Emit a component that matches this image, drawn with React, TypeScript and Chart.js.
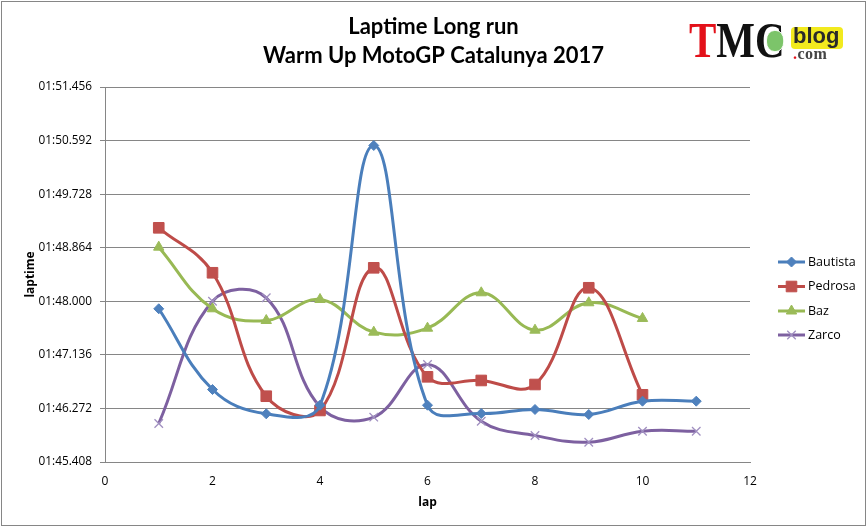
import { useEffect, useRef } from "react";
import { Chart, registerables } from "chart.js";
import { drawPoint } from "chart.js/helpers";

Chart.register(...registerables);

// lap numbers per rider
const lapsLong = [1, 2, 3, 4, 5, 6, 7, 8, 9, 10, 11];
const lapsShort = [1, 2, 3, 4, 5, 6, 7, 8, 9, 10];

// lap times in seconds (01:47.000 = 107.000)
const bautista = [107.879, 106.577, 106.185, 106.324, 110.513, 106.324, 106.19, 106.255, 106.174, 106.389, 106.389];
const pedrosa = [109.185, 108.46, 106.469, 106.239, 108.54, 106.782, 106.723, 106.658, 108.218, 106.492];
const baz = [108.873, 107.879, 107.69, 108.029, 107.502, 107.566, 108.137, 107.534, 107.976, 107.723];
const zarco = [106.029, 108.0, 108.056, 106.298, 106.131, 106.981, 106.066, 105.835, 105.727, 105.905, 105.905];

const riders = ["Bautista", "Pedrosa", "Baz", "Zarco"];
const yTicks = [105.408, 106.272, 107.136, 108.0, 108.864, 109.728, 110.592, 111.456];
const xTicks = [0, 2, 4, 6, 8, 10, 12];
const titleLines = ["Laptime Long run", "Warm Up MotoGP Catalunya 2017"];

const fmtTime = (v: number) => {
  const min = Math.floor(v / 60);
  const sec = v - min * 60;
  return String(min).padStart(2, "0") + ":" + sec.toFixed(3).padStart(6, "0");
};

const toPoints = (laps: number[], vals: number[]) => vals.map((y, i) => ({ x: laps[i], y }));

// title + excel style legend (line with marker in the middle)
const decorPlugin = {
  id: "decor",
  afterDraw(chart: any) {
    const ctx = chart.ctx;
    ctx.save();
    ctx.fillStyle = "#000";
    ctx.textAlign = "center";
    ctx.textBaseline = "middle";
    ctx.font = "bold 22px Lato";
    ctx.fillText(titleLines[0], 433.5, 27);
    ctx.fillText(titleLines[1], 433.5, 56);

    const rows = [262, 286.5, 311, 335];
    chart.data.datasets.forEach((ds: any, i: number) => {
      const y = rows[i];
      ctx.strokeStyle = ds.borderColor;
      ctx.lineWidth = 3;
      ctx.beginPath();
      ctx.moveTo(778, y);
      ctx.lineTo(805, y);
      ctx.stroke();
      ctx.fillStyle = ds.pointBackgroundColor;
      ctx.strokeStyle = ds.pointBorderColor;
      ctx.lineWidth = ds.pointBorderWidth;
      drawPoint(ctx, { pointStyle: ds.pointStyle, radius: ds.pointRadius, rotation: 0, borderWidth: ds.pointBorderWidth }, 791.5, y);
      ctx.fillStyle = "#000";
      ctx.textAlign = "left";
      ctx.font = "12.5px 'Open Sans'";
      ctx.fillText(riders[i], 808, y);
    });
    ctx.restore();
  },
};

const App = () => {
  const canvasRef = useRef<HTMLCanvasElement>(null);
  const chartRef = useRef<Chart | null>(null);

  useEffect(() => {
    if (!canvasRef.current) return;
    if (chartRef.current) chartRef.current.destroy();

    const series = [
      { data: toPoints(lapsLong, bautista), line: "#4A7EBB", mark: "#4F81BD", style: "rectRot", r: 5, bw: 1 },
      { data: toPoints(lapsShort, pedrosa), line: "#BE4B48", mark: "#C0504D", style: "rect", r: 7.5, bw: 1 },
      { data: toPoints(lapsShort, baz), line: "#98B954", mark: "#9BBB59", style: "triangle", r: 6, bw: 1 },
      { data: toPoints(lapsLong, zarco), line: "#7D60A0", mark: "#A08FC0", style: "crossRot", r: 6, bw: 1.3 },
    ];

    chartRef.current = new Chart(canvasRef.current, {
      type: "line",
      data: {
        datasets: series.map((s, i) => ({
          label: riders[i],
          data: s.data,
          borderColor: s.line,
          borderWidth: 3,
          tension: 0.4,
          fill: false,
          pointStyle: s.style as any,
          pointRadius: s.r,
          pointBackgroundColor: s.mark,
          pointBorderColor: s.mark,
          pointBorderWidth: s.bw,
          clip: false as any,
        })),
      },
      options: {
        responsive: false,
        animation: false,
        layout: { padding: { top: 87, right: 117, left: 0, bottom: 0 } },
        plugins: {
          legend: { display: false },
          tooltip: { enabled: false },
        },
        scales: {
          x: {
            type: "linear",
            min: 0,
            max: 12,
            afterFit: (s: any) => { s.height = 65; },
            afterBuildTicks: (s: any) => { s.ticks = xTicks.map((v) => ({ value: v })); },
            grid: { display: false },
            border: { display: true, color: "#868686", width: 1 },
            ticks: { color: "#000", font: { family: "'Open Sans'", size: 12 }, padding: 4 },
            title: { display: true, text: "lap", color: "#000", font: { family: "'Open Sans'", size: 12, weight: "bold" }, padding: { top: 0, bottom: 17 } },
          },
          y: {
            min: yTicks[0],
            max: yTicks[yTicks.length - 1],
            afterFit: (s: any) => { s.width = 105; },
            afterBuildTicks: (s: any) => { s.ticks = yTicks.map((v) => ({ value: v })); },
            grid: { color: "#868686", lineWidth: 1, drawTicks: true, tickLength: 5, tickColor: "#868686" },
            border: { display: true, color: "#868686", width: 1 },
            ticks: { color: "#000", font: { family: "'Open Sans'", size: 11.8 }, padding: 8, callback: (v: any) => fmtTime(Number(v)) },
            title: { display: true, text: "laptime", color: "#000", font: { family: "'Open Sans'", size: 12, weight: "bold" }, padding: { top: 23, bottom: 0 } },
          },
        },
      },
      plugins: [decorPlugin],
    });

    return () => {
      if (chartRef.current) {
        chartRef.current.destroy();
        chartRef.current = null;
      }
    };
  }, []);

  return (
    <div style={{ position: "absolute", left: 0, top: 0, width: 867, height: 527, background: "#fff", overflow: "hidden" }}>
      <canvas ref={canvasRef} width={867} height={527} style={{ display: "block" }} />
      <div style={{ position: "absolute", left: 1, top: 1, width: 863, height: 523, border: "1px solid #868686", pointerEvents: "none" }} />
      {/* logo */}
      <div style={{ position: "absolute", left: 689, top: 15, fontFamily: "'Liberation Serif'", fontWeight: "bold", fontSize: 50, lineHeight: "50px", whiteSpace: "nowrap", transform: "scaleX(0.82)", transformOrigin: "0 0" }}>
        <span style={{ color: "#E3111A" }}>T</span>
        <span style={{ color: "#111" }}>M</span>
        <span style={{ color: "#111", position: "relative" }}>
          C
          <span style={{ position: "absolute", left: 13, top: 18, width: 20, height: 20, borderRadius: 10, background: "#7CC46A", border: "1px solid #fff" }} />
        </span>
      </div>
      <div style={{ position: "absolute", left: 791, top: 27, width: 52, height: 22, background: "#F2EA1E", borderRadius: 4 }} />
      <div style={{ position: "absolute", left: 793, top: 23, fontFamily: "'Liberation Sans'", fontWeight: "bold", fontSize: 22, lineHeight: "26px", color: "#2A2A2A" }}>blog</div>
      <div style={{ position: "absolute", left: 793, top: 46, fontFamily: "'Liberation Serif'", fontWeight: "bold", fontSize: 16, lineHeight: "16px", letterSpacing: 0.5, color: "#444" }}>
        <span style={{ color: "#E3111A" }}>.</span>com
      </div>
    </div>
  );
};

export default App;
